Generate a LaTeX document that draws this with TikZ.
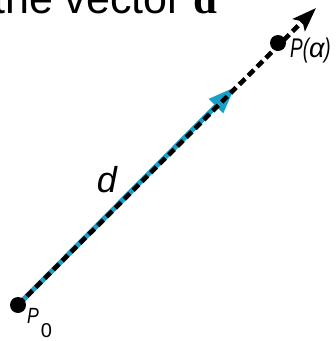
\documentclass[tikz,border=0pt]{standalone}
\usepackage{fontspec}
\usepackage{graphicx}
\setmainfont{Liberation Sans}
\newfontfamily\serifbold{Liberation Serif}
\usetikzlibrary{arrows.meta}
\definecolor{vecblue}{RGB}{25,160,200}
\newcommand{\narrowtext}[1]{\scalebox{0.7}[1]{#1}}
\begin{document}
\begin{tikzpicture}[x=1pt,y=-1pt,
  dot/.style={circle,fill=black,inner sep=0pt,minimum size=#1},
  dashline/.style={line width=4.6pt,dash pattern=on 8pt off 4.5pt},
  lbl/.style={inner sep=0pt}]
\useasboundingbox (0,0) rectangle (336,341);
\clip (0,0) rectangle (336,341);
% title
\node[anchor=base west,inner sep=0pt,font=\fontsize{43}{46}\selectfont] (title) at (-7,13)
  {the vector {\serifbold\bfseries d}};
% points
\coordinate (P0) at (18,305);
\coordinate (Pa) at (278,43);
\coordinate (tipB) at (235,87);
\coordinate (tipK) at (316,8);
\draw[vecblue,line width=5pt,-{Triangle[length=27pt,width=19pt]}] (P0) -- (tipB);
\draw[dashline,-{Stealth[length=24pt,width=17pt,inset=5pt]}] (P0) -- (tipK);
\node[dot=16pt] (p0dot) at (P0) {};
\node[dot=16pt] (padot) at (Pa) {};
% labels
\node[lbl,anchor=base west,font=\fontsize{22}{24}\selectfont\itshape] (p0lab) at (27,323)
  {\scalebox{0.8}[1]{P}\kern2pt\raisebox{-14pt}{\upshape\fontsize{20}{22}\selectfont 0}};
\node[lbl,anchor=base west,font=\fontsize{27}{29}\selectfont\itshape] (palab) at (290,57)
  {\narrowtext{P(}α\narrowtext{)}};
\node[inner sep=0pt,anchor=base,font=\fontsize{36}{38}\selectfont\itshape] (dlab) at (107,192) {d};
\end{tikzpicture}
\end{document}
